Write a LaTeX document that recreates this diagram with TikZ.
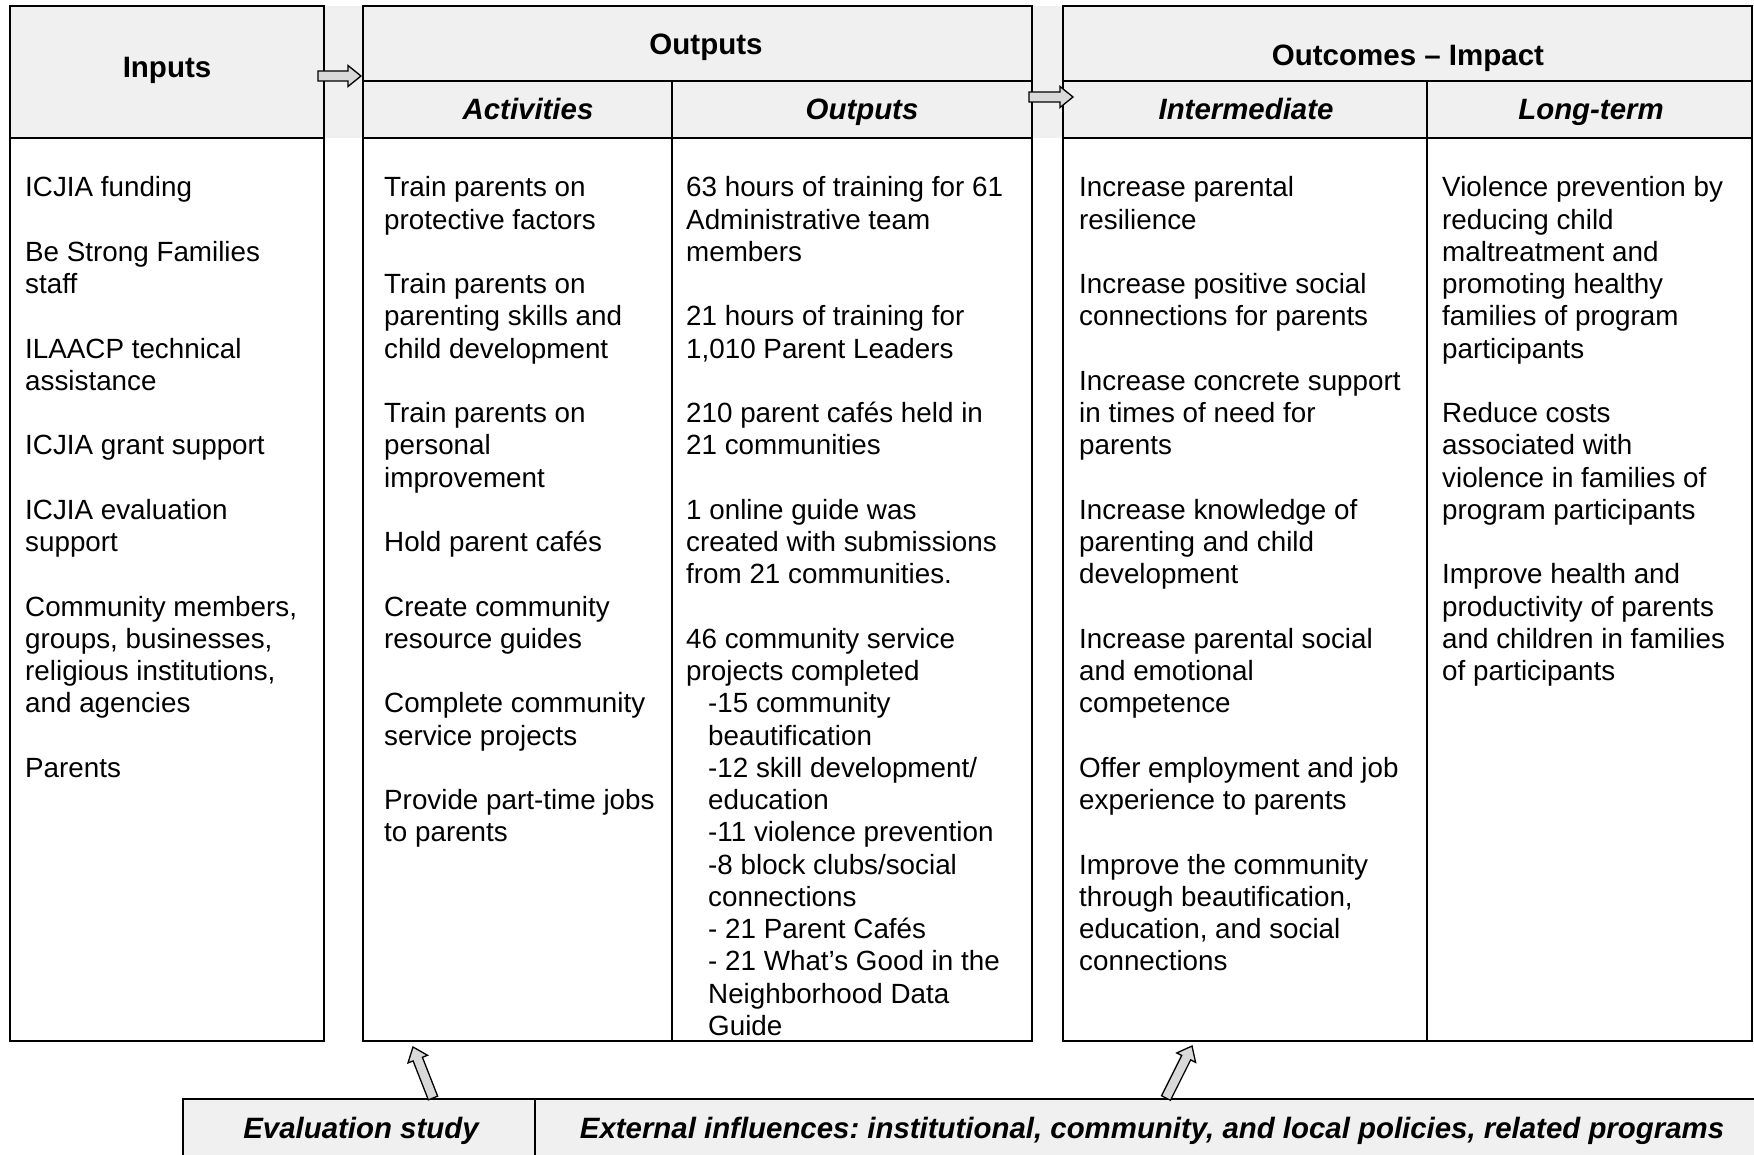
\documentclass[tikz,border=0pt]{standalone}
\usepackage{fontspec}
\setmainfont{Liberation Sans}
\usetikzlibrary{calc}
\frenchspacing
\definecolor{hdrgray}{HTML}{F0F0F0}
\definecolor{arrgray}{HTML}{D9D9D9}
\newcommand\bodyfont{\fontsize{27.8}{32.25}\selectfont}
\newcommand\hdrfont{\fontsize{29.5}{33}\selectfont\bfseries}
\newcommand\subhfont{\fontsize{29.4}{33}\selectfont\bfseries\itshape}
\newcommand\blkarrow[2]{%
  \coordinate (neck) at ($(#2)!13pt!(#1)$);
  \draw[arrowshape] ($(#1)!5pt!90:(#2)$) -- ($(neck)!5pt!90:(#2)$) -- ($(neck)!10.5pt!90:(#2)$) -- (#2)
    -- ($(neck)!10.5pt!-90:(#2)$) -- ($(neck)!5pt!-90:(#2)$) -- ($(#1)!5pt!-90:(#2)$) -- cycle;}
\begin{document}
\begin{tikzpicture}[x=1pt,y=-1pt,
  box/.style={draw=black, line width=2pt, rectangle, inner sep=0pt, outer sep=0pt, anchor=north west},
  rule/.style={draw=black, line width=2pt},
  arrowshape/.style={draw=black, fill=arrgray, line width=1.3pt, line join=miter},
  coltext/.style={anchor=base west, inner sep=0pt, font=\bodyfont},
  hdr/.style={inner sep=0pt, text height=20pt, text depth=6pt, font=\hdrfont},
  subh/.style={inner sep=0pt, text height=20pt, text depth=6pt, font=\subhfont}]
\useasboundingbox (0,0) rectangle (1754,1155);
\clip (0,0) rectangle (1754,1155);
% header band
\fill[hdrgray] (10,6) rectangle (1752,138);
% bottom band
\fill[hdrgray] (183,1099) rectangle (1770,1170);
% main boxes
\node[box, minimum width=314pt, minimum height=1035pt] (inputs) at (10,6) {};
\node[box, minimum width=669pt, minimum height=1035pt] (outputs) at (363,6) {};
\node[box, minimum width=689pt, minimum height=1035pt] (outcomes) at (1063,6) {};
% header rules
\draw[rule] (10,138) -- (324,138);
\draw[rule] (363,81) -- (1032,81);
\draw[rule] (363,138) -- (1032,138);
\draw[rule] (672,81) -- (672,1041);
\draw[rule] (1063,81) -- (1752,81);
\draw[rule] (1063,138) -- (1752,138);
\draw[rule] (1427,81) -- (1427,1041);
% bottom box
\node[box, minimum width=1600pt, minimum height=80pt] (bottom) at (183,1099) {};
\draw[rule] (535,1099) -- (535,1180);
% headers
\node[hdr] (hin) at (167,71) {Inputs};
\node[hdr] (hout) at (706,48) {Outputs};
\node[hdr] (hoc) at (1408,59) {Outcomes – Impact};
\node[subh] (hact) at (528,113) {Activities};
\node[subh] (houts) at (862,113) {Outputs};
\node[subh] (hint) at (1246,113) {Intermediate};
\node[subh] (hlt) at (1591,113) {Long-term};
\node[subh] (eval) at (361,1131) {Evaluation study};
\node[subh] (ext) at (1152,1131) {External influences: institutional, community, and local policies, related programs};
% column texts
\node[coltext] (tin) at (25,197) {\begin{tabular}[t]{@{}l@{}}
ICJIA funding\\ \\
Be Strong Families\\ staff\\ \\
ILAACP technical\\ assistance\\ \\
ICJIA grant support\\ \\
ICJIA evaluation\\ support\\ \\
Community members,\\ groups, businesses,\\ religious institutions,\\ and agencies\\ \\
Parents
\end{tabular}};
\node[coltext] (tact) at (384,197) {\begin{tabular}[t]{@{}l@{}}
Train parents on\\ protective factors\\ \\
Train parents on\\ parenting skills and\\ child development\\ \\
Train parents on\\ personal\\ improvement\\ \\
Hold parent cafés\\ \\
Create community\\ resource guides\\ \\
Complete community\\ service projects\\ \\
Provide part-time jobs\\ to parents
\end{tabular}};
\node[coltext] (tout) at (686,197) {\begin{tabular}[t]{@{}l@{}}
63 hours of training for 61\\ Administrative team\\ members\\ \\
21 hours of training for\\ 1,010 Parent Leaders\\ \\
210 parent cafés held in\\ 21 communities\\ \\
1 online guide was\\ created with submissions\\ from 21 communities.\\ \\
46 community service\\ projects completed\\
\hspace*{22pt}-15 community\\
\hspace*{22pt}beautification\\
\hspace*{22pt}-12 skill development/\\
\hspace*{22pt}education\\
\hspace*{22pt}-11 violence prevention\\
\hspace*{22pt}-8 block clubs/social\\
\hspace*{22pt}connections\\
\hspace*{22pt}- 21 Parent Cafés\\
\hspace*{22pt}- 21 What’s Good in the\\
\hspace*{22pt}Neighborhood Data\\
\hspace*{22pt}Guide
\end{tabular}};
\node[coltext] (tint) at (1079,197) {\begin{tabular}[t]{@{}l@{}}
Increase parental\\ resilience\\ \\
Increase positive social\\ connections for parents\\ \\
Increase concrete support\\ in times of need for\\ parents\\ \\
Increase knowledge of\\ parenting and child\\ development\\ \\
Increase parental social\\ and emotional\\ competence\\ \\
Offer employment and job\\ experience to parents\\ \\
Improve the community\\ through beautification,\\ education, and social\\ connections
\end{tabular}};
\node[coltext] (tlt) at (1442,197) {\begin{tabular}[t]{@{}l@{}}
Violence prevention by\\ reducing child\\ maltreatment and\\ promoting healthy\\ families of program\\ participants\\ \\
Reduce costs\\ associated with\\ violence in families of\\ program participants\\ \\
Improve health and\\ productivity of parents\\ and children in families\\ of participants
\end{tabular}};
% arrows
\coordinate (a1t) at (318,76);
\coordinate (a1h) at (361,76);
\coordinate (a2t) at (1029,97);
\coordinate (a2h) at (1073,97);
\coordinate (a3t) at (433,1098);
\coordinate (a3h) at (413,1047);
\coordinate (a4t) at (1166,1098);
\coordinate (a4h) at (1192,1046);
\blkarrow{a1t}{a1h}
\blkarrow{a2t}{a2h}
\blkarrow{a3t}{a3h}
\blkarrow{a4t}{a4h}
\end{tikzpicture}
\end{document}
